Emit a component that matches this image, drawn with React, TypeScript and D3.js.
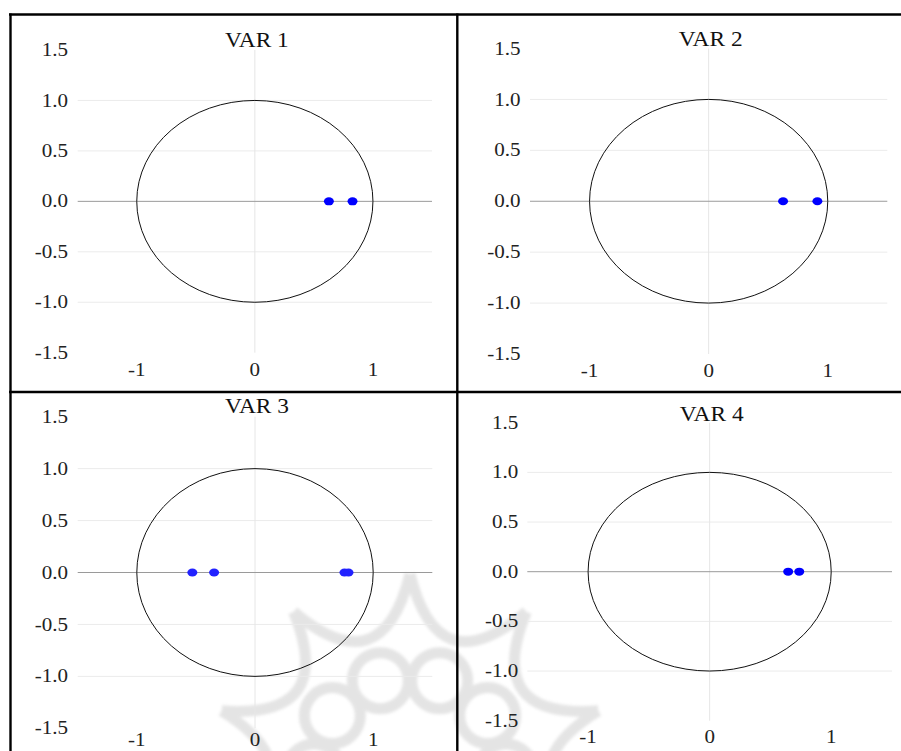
import React, { useEffect, useRef } from 'react';
import * as d3 from 'd3';

const panelTitles = ['VAR 1', 'VAR 2', 'VAR 3', 'VAR 4'];
const var1Re = [0.627, 0.827];
const var1Im = [0, 0];
const var2Re = [0.625, 0.913];
const var2Im = [0, 0];
const var3Re = [-0.53, -0.346, 0.757, 0.791];
const var3Im = [0, 0, 0, 0];
const var4Re = [0.646, 0.737];
const var4Im = [0, 0];

const yTicks = [-1.5, -1, -0.5, 0, 0.5, 1, 1.5];
const xTicks = [-1, 0, 1];
const gridTicks = [-1, -0.5, 0.5, 1];

const W = 901;
const H = 751;
const STRETCH = 1.17;
const FONT = '"Liberation Serif", "Times New Roman", serif';

// pixel box of each plot (domain -1.5..1.5 on both axes)
const layouts = [
    { x0: 77.7, x1: 432, y0: 352.7, y1: 50, labelX: 68, titleY: 46.5, tickY: 375.5, dot: '#0000ff' },
    { x0: 530, x1: 887.3, y0: 354, y1: 48.5, labelX: 520.5, titleY: 45.5, tickY: 376.5, dot: '#0000ff' },
    { x0: 77.7, x1: 432.3, y0: 728.3, y1: 416.7, labelX: 68, titleY: 413, tickY: 745.5, dot: '#2222ff' },
    { x0: 527.3, x1: 892, y0: 720.7, y1: 422.7, labelX: 518.3, titleY: 420.5, tickY: 743.3, dot: '#0000ff' },
];

const series = [
    { re: var1Re, im: var1Im },
    { re: var2Re, im: var2Im },
    { re: var3Re, im: var3Im },
    { re: var4Re, im: var4Im },
];

export default function App() {
    const svgRef = useRef<SVGSVGElement | null>(null);

    useEffect(() => {
        const svg = d3.select(svgRef.current);
        svg.selectAll('*').remove();

        svg.append('rect').attr('width', W).attr('height', H).attr('fill', '#fff');

        svg.append('defs').append('filter')
            .attr('id', 'wm-blur')
            .append('feGaussianBlur')
            .attr('stdDeviation', 1.6);

        // faint watermark rosette in the background
        const wm = svg.append('g')
            .attr('fill', 'none')
            .attr('stroke', '#a8a8a8')
            .attr('stroke-width', 11)
            .attr('opacity', 0.3)
            .attr('filter', 'url(#wm-blur)');
        const cx = 410, cy = 772;
        const n = 10;
        const pt = (r: number, deg: number) => [cx + r * Math.cos(deg * Math.PI / 180), cy + r * Math.sin(deg * Math.PI / 180)];
        d3.range(n).forEach(k => {
            const a = -90 + k * 36;
            const [ax, ay] = pt(198, a);
            const [bx, by] = pt(198, a + 36);
            const [qx, qy] = pt(90, a + 18);
            wm.append('path').attr('d', `M${ax},${ay} Q${qx},${qy} ${bx},${by}`);
            const [ccx, ccy] = pt(96, a + 18);
            wm.append('circle').attr('cx', ccx).attr('cy', ccy).attr('r', 28);
        });

        layouts.forEach((L, i) => {
            const x = d3.scaleLinear().domain([-1.5, 1.5]).range([L.x0, L.x1]);
            const y = d3.scaleLinear().domain([-1.5, 1.5]).range([L.y0, L.y1]);
            const g = svg.append('g');

            g.selectAll('line.grid')
                .data(gridTicks)
                .enter().append('line')
                .attr('x1', x(-1.5)).attr('x2', x(1.5))
                .attr('y1', d => y(d)).attr('y2', d => y(d))
                .attr('stroke', '#ebebeb')
                .attr('stroke-width', 1);

            // vertical zero line
            g.append('line')
                .attr('x1', x(0)).attr('x2', x(0))
                .attr('y1', y(1.5)).attr('y2', y(-1.5))
                .attr('stroke', '#e6e6e6')
                .attr('stroke-width', 1);

            // horizontal zero line
            g.append('line')
                .attr('x1', x(-1.5)).attr('x2', x(1.5))
                .attr('y1', y(0)).attr('y2', y(0))
                .attr('stroke', '#9a9a9a')
                .attr('stroke-width', 1);

            // unit circle
            g.append('ellipse')
                .attr('cx', x(0)).attr('cy', y(0))
                .attr('rx', x(1) - x(0)).attr('ry', y(0) - y(1))
                .attr('fill', 'none')
                .attr('stroke', '#111')
                .attr('stroke-width', 1);

            const s = series[i];
            g.selectAll('ellipse.root')
                .data(s.re.map((re, j) => ({ re, im: s.im[j] })))
                .enter().append('ellipse')
                .attr('cx', d => x(d.re)).attr('cy', d => y(d.im))
                .attr('rx', 5).attr('ry', 4)
                .attr('fill', L.dot);

            g.selectAll('text.ylab')
                .data(yTicks)
                .enter().append('text')
                .attr('transform', d => `translate(${L.labelX},${y(d)}) scale(${STRETCH},1)`)
                .attr('dy', '0.34em')
                .attr('text-anchor', 'end')
                .attr('font-family', FONT)
                .attr('font-size', 18)
                .attr('fill', '#222')
                .text(d => d.toFixed(1));

            g.selectAll('text.xlab')
                .data(xTicks)
                .enter().append('text')
                .attr('transform', d => `translate(${x(d)},${L.tickY}) scale(${STRETCH},1)`)
                .attr('text-anchor', 'middle')
                .attr('font-family', FONT)
                .attr('font-size', 18)
                .attr('fill', '#222')
                .text(d => String(d));

            g.append('text')
                .attr('transform', `translate(${x(0) + 2},${L.titleY}) scale(${STRETCH},1)`)
                .attr('text-anchor', 'middle')
                .attr('font-family', FONT)
                .attr('font-size', 20)
                .attr('fill', '#111')
                .text(panelTitles[i]);
        });

        // panel borders
        const borders = svg.append('g').attr('stroke', '#000').attr('stroke-width', 2.4);
        borders.append('line').attr('x1', 9).attr('x2', W).attr('y1', 14.5).attr('y2', 14.5);
        borders.append('line').attr('x1', 10.5).attr('x2', 10.5).attr('y1', 13.5).attr('y2', H);
        borders.append('line').attr('x1', 457.3).attr('x2', 457.3).attr('y1', 13.5).attr('y2', H);
        borders.append('line').attr('x1', 9).attr('x2', W).attr('y1', 392).attr('y2', 392);
    }, []);

    return (
        <svg
            ref={svgRef}
            width={W}
            height={H}
            style={{ position: 'absolute', left: 0, top: 0 }}
        />
    );
}
